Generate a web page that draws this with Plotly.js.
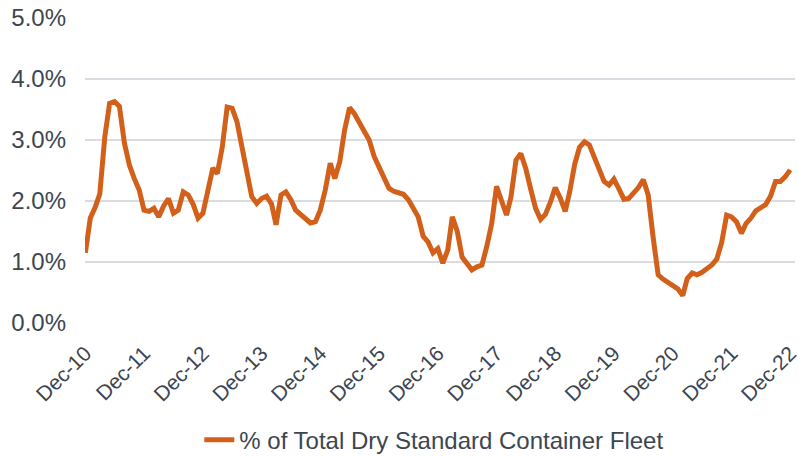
<!DOCTYPE html>
<html>
<head>
<meta charset="utf-8">
<script src="https://cdn.plot.ly/plotly-3.0.1.min.js"></script>
<style>
html,body{margin:0;padding:0;background:#fff;}
#chart{width:799px;height:456px;}
</style>
</head>
<body>
<div id="chart"></div>
<script>
// Monthly series, Dec-2010 .. Dec-2022
var startYear = 2010, startMonth = 12;
var seriesName = "% of Total Dry Standard Container Fleet";
var values = [
  1.15, 1.72, 1.90, 2.12, 3.05, 3.60, 3.63, 3.55, 2.95, 2.59, 2.37, 2.18,
  1.85, 1.83, 1.88, 1.74, 1.92, 2.04, 1.80, 1.85, 2.15, 2.10, 1.95, 1.72,
  1.80, 2.18, 2.54, 2.45, 2.89, 3.54, 3.52, 3.30, 2.89, 2.43, 2.07, 1.96,
  2.04, 2.08, 1.95, 1.61, 2.10, 2.15, 2.02, 1.85, 1.77, 1.69, 1.64, 1.66,
  1.85, 2.18, 2.62, 2.37, 2.64, 3.16, 3.53, 3.43, 3.30, 3.14, 3.00, 2.73,
  2.56, 2.39, 2.21, 2.16, 2.14, 2.11, 2.02, 1.88, 1.74, 1.42, 1.33, 1.15,
  1.22, 0.98, 1.20, 1.74, 1.50, 1.08, 0.98, 0.87, 0.92, 0.95, 1.25, 1.63,
  2.24, 2.02, 1.77, 2.07, 2.67, 2.78, 2.53, 2.20, 1.88, 1.70, 1.78, 1.98,
  2.22, 2.05, 1.83, 2.15, 2.60, 2.88, 2.97, 2.92, 2.73, 2.50, 2.32, 2.26,
  2.36, 2.20, 2.03, 2.04, 2.12, 2.22, 2.35, 2.10, 1.40, 0.79, 0.72, 0.66,
  0.61, 0.56, 0.45, 0.73, 0.82, 0.79, 0.83, 0.88, 0.95, 1.05, 1.32, 1.77,
  1.74, 1.66, 1.47, 1.63, 1.72, 1.84, 1.89, 1.94, 2.08, 2.32, 2.32, 2.40,
  2.51
];
var yTickVals = [0, 1, 2, 3, 4, 5];
var yTickText = ["0.0%", "1.0%", "2.0%", "3.0%", "4.0%", "5.0%"];
var xTickVals = ["2010-12-01", "2011-12-01", "2012-12-01", "2013-12-01", "2014-12-01", "2015-12-01",
                 "2016-12-01", "2017-12-01", "2018-12-01", "2019-12-01", "2020-12-01", "2021-12-01", "2022-12-01"];
var xTickText = ["Dec-10", "Dec-11", "Dec-12", "Dec-13", "Dec-14", "Dec-15",
                 "Dec-16", "Dec-17", "Dec-18", "Dec-19", "Dec-20", "Dec-21", "Dec-22"];

var dates = [];
for (var k = 0; k < values.length; k++) {
  var m0 = (startMonth - 1) + k;
  var y = startYear + Math.floor(m0 / 12);
  var m = (m0 % 12) + 1;
  dates.push(y + "-" + (m < 10 ? "0" + m : m) + "-01");
}

var textColor = "#3d4650";
var fontFam = "Liberation Sans, Arial, sans-serif";

var trace = {
  x: dates,
  y: values,
  type: "scatter",
  mode: "lines",
  name: seriesName,
  line: {color: "#d2601a", width: 5, shape: "linear"},
  hoverinfo: "skip"
};

var layout = {
  width: 799, height: 456,
  margin: {l: 85, r: 4, t: 18, b: 133, autoexpand: false},
  paper_bgcolor: "#ffffff",
  plot_bgcolor: "#ffffff",
  font: {family: fontFam, size: 24, color: textColor},
  showlegend: true,
  legend: {
    orientation: "h",
    x: 0.161, xanchor: "left",
    y: -0.384, yanchor: "middle",
    font: {family: fontFam, size: 24, color: textColor},
    bgcolor: "rgba(0,0,0,0)"
  },
  xaxis: {
    type: "date",
    range: ["2010-11-29", "2022-12-31"],
    tickvals: xTickVals,
    ticktext: xTickText,
    tickangle: -45,
    showgrid: false,
    zeroline: false,
    showline: false,
    ticks: "",
    ticklabelstandoff: 13,
    ticklabeloverflow: "allow",
    automargin: false,
    tickfont: {family: fontFam, size: 21, color: textColor},
    fixedrange: true
  },
  yaxis: {
    range: [0, 5],
    tickvals: yTickVals,
    ticktext: yTickText,
    showgrid: true,
    gridcolor: "#d9dde2",
    gridwidth: 1.5,
    zeroline: false,
    showline: false,
    ticks: "",
    ticklabelstandoff: 18,
    automargin: false,
    tickfont: {family: fontFam, size: 24, color: textColor},
    fixedrange: true
  }
};

Plotly.newPlot("chart", [trace], layout, {staticPlot: true, displayModeBar: false});
</script>
</body>
</html>
